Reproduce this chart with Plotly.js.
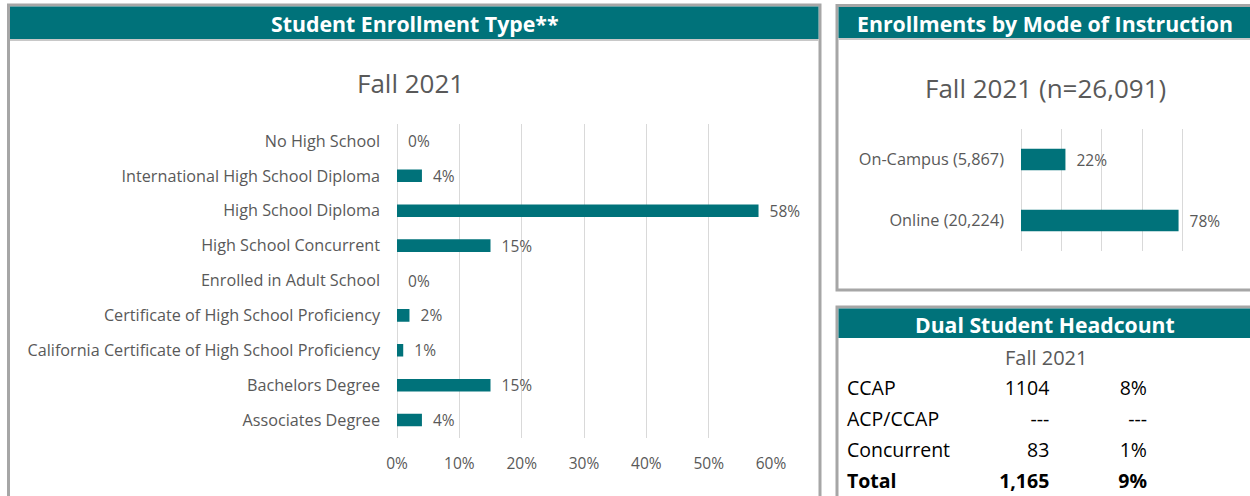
<!DOCTYPE html>
<html>
<head>
<meta charset="utf-8">
<script src="https://cdn.plot.ly/plotly-3.0.1.min.js"></script>
<style>
html,body{margin:0;padding:0;background:#fff;}
#chart{width:1250px;height:496px;}
</style>
</head>
<body>
<div id="chart"></div>
<script>
// ---- data ----
const enrollCategories = [
  'No High School',
  'International High School Diploma',
  'High School Diploma',
  'High School Concurrent',
  'Enrolled in Adult School',
  'Certificate of High School Proficiency',
  'California Certificate of High School Proficiency',
  'Bachelors Degree',
  'Associates Degree'
];
const enrollShares = [0, 0.04, 0.58, 0.15, 0, 0.02, 0.01, 0.15, 0.04];

const modeNames = ['On-Campus', 'Online'];
const modeCounts = ['5,867', '20,224'];
const modeShares = [0.22, 0.78];
const modeTotal = '26,091';

const dualLabels = ['CCAP', 'ACP/CCAP', 'Concurrent', 'Total'];
const dualCounts = ['1104', '---', '83', '1,165'];
const dualShares = ['8%', '---', '1%', '9%'];

const termLabel = 'Fall 2021';

// ---- helpers ----
const W = 1250, H = 496;
const X = px => px / W;
const Y = py => 1 - py / H;
const TEAL = '#00727a';
const GREY = '#a6a6a6';
const TXT = '#595959';
const FONT = '"Open Sans", Lato, sans-serif';

const modeLabels = modeNames.map((n, i) => n + ' (' + modeCounts[i] + ')');
const rowWeights = dualLabels.map((v, i) => i === dualLabels.length - 1 ? 700 : 400);
const pad = '\u00a0\u00a0';

const traces = [
  {
    type: 'bar', orientation: 'h',
    y: enrollCategories, x: enrollShares,
    xaxis: 'x', yaxis: 'y',
    width: 0.36,
    marker: {color: TEAL},
    texttemplate: pad + '%{x:.0%}',
    textposition: 'outside',
    constraintext: 'none',
    textfont: {size: 15.5, color: TXT, family: FONT},
    cliponaxis: false,
    hoverinfo: 'none'
  },
  {
    type: 'bar', orientation: 'h',
    y: modeLabels, x: modeShares,
    xaxis: 'x2', yaxis: 'y2',
    width: 0.35,
    marker: {color: TEAL},
    texttemplate: pad + '%{x:.0%}',
    textposition: 'outside',
    constraintext: 'none',
    textfont: {size: 15.5, color: TXT, family: FONT},
    cliponaxis: false,
    hoverinfo: 'none'
  },
  {
    type: 'table',
    domain: {x: [X(839), X(1156)], y: [0, Y(371)]},
    columnwidth: [121, 98, 98],
    header: {
      values: ['', '', ''],
      height: 1,
      fill: {color: 'white'},
      line: {color: 'white', width: 0},
      font: {size: 1, color: 'white'}
    },
    cells: {
      values: [dualLabels, dualCounts, dualShares],
      align: ['left', 'right', 'right'],
      height: 31,
      fill: {color: 'white'},
      line: {color: 'white', width: 0},
      font: {family: FONT, size: 19.5, color: '#000', weight: [rowWeights, rowWeights, rowWeights]}
    }
  }
];

const shapes = [
  // left panel
  {type: 'rect', xref: 'paper', yref: 'paper', x0: X(8.5), x1: X(820), y0: Y(5), y1: Y(620), line: {color: GREY, width: 3}},
  {type: 'rect', xref: 'paper', yref: 'paper', x0: X(10), x1: X(818.5), y0: Y(6.5), y1: Y(39), fillcolor: TEAL, line: {width: 0}},
  {type: 'line', xref: 'paper', yref: 'paper', x0: X(10), x1: X(818.5), y0: Y(40), y1: Y(40), line: {color: '#c8c8c8', width: 2}},
  // right top panel
  {type: 'rect', xref: 'paper', yref: 'paper', x0: X(837), x1: X(1262), y0: Y(5.5), y1: Y(290), line: {color: GREY, width: 3}},
  {type: 'rect', xref: 'paper', yref: 'paper', x0: X(838.5), x1: X(1252), y0: Y(7), y1: Y(38), fillcolor: TEAL, line: {width: 0}},
  {type: 'line', xref: 'paper', yref: 'paper', x0: X(838.5), x1: X(1252), y0: Y(39), y1: Y(39), line: {color: '#c8c8c8', width: 2}},
  // right bottom panel
  {type: 'rect', xref: 'paper', yref: 'paper', x0: X(837), x1: X(1262), y0: Y(307), y1: Y(620), line: {color: GREY, width: 3}},
  {type: 'rect', xref: 'paper', yref: 'paper', x0: X(838.5), x1: X(1252), y0: Y(308.5), y1: Y(338), fillcolor: TEAL, line: {width: 0}}
];

const ann = (text, x, y, size, color, bold) => ({
  xref: 'paper', yref: 'paper', x: X(x), y: Y(y),
  xanchor: 'center', yanchor: 'middle', showarrow: false,
  text: bold ? '<b>' + text + '</b>' : text,
  font: {family: FONT, size: size, color: color}
});

const annotations = [
  ann('Student Enrollment Type**', 415, 23, 21.3, '#fff', true),
  ann('Enrollments by Mode of Instruction', 1045, 23, 21.3, '#fff', true),
  ann('Dual Student Headcount', 1045, 324, 21.2, '#fff', true),
  ann(termLabel, 410, 83, 26, TXT, false),
  ann(termLabel + ' (n=' + modeTotal + ')', 1045, 88, 26, TXT, false),
  ann(termLabel, 1046, 357, 20, TXT, false)
];

const layout = {
  width: W, height: H,
  margin: {l: 0, r: 0, t: 0, b: 0, pad: 0},
  paper_bgcolor: '#fff', plot_bgcolor: '#fff',
  showlegend: false,
  font: {family: FONT, color: TXT},
  xaxis: {
    domain: [X(397), X(771)], range: [0, 0.6], dtick: 0.1, tick0: 0,
    tickformat: '.0%', showgrid: true, gridcolor: '#d9d9d9', gridwidth: 1,
    zeroline: true, zerolinecolor: '#d9d9d9', zerolinewidth: 1,
    showline: false, ticks: '', ticklabelstandoff: 15,
    tickfont: {size: 15.5, color: TXT, family: FONT}, fixedrange: true
  },
  yaxis: {
    domain: [Y(437.5), Y(123.5)], type: 'category', autorange: 'reversed',
    showgrid: false, zeroline: false, showline: false, ticks: '',
    ticklabelstandoff: 16,
    tickfont: {size: 16.2, color: TXT, family: FONT}, fixedrange: true
  },
  xaxis2: {
    domain: [X(1021), X(1223)], range: [0, 1], dtick: 0.2, tick0: 0,
    showticklabels: false, showgrid: true, gridcolor: '#d9d9d9', gridwidth: 1,
    zeroline: true, zerolinecolor: '#d9d9d9', zerolinewidth: 1,
    showline: false, ticks: '', anchor: 'y2', fixedrange: true
  },
  yaxis2: {
    domain: [Y(251), Y(129)], type: 'category', autorange: 'reversed',
    anchor: 'x2', showgrid: false, zeroline: false, showline: false, ticks: '',
    ticklabelstandoff: 16,
    tickfont: {size: 16.3, color: TXT, family: FONT}, fixedrange: true
  },
  shapes: shapes,
  annotations: annotations
};

Plotly.newPlot('chart', traces, layout, {displayModeBar: false, staticPlot: true});
</script>
</body>
</html>
